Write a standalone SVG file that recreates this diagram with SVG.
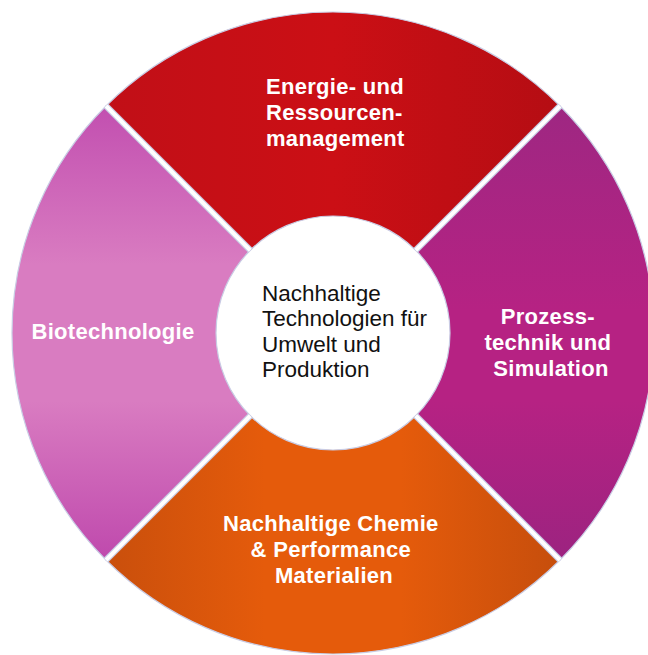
<svg xmlns="http://www.w3.org/2000/svg" width="648" height="655" viewBox="0 0 648 655">
  <defs>
    <linearGradient id="gTop" gradientUnits="userSpaceOnUse" x1="106" y1="0" x2="560" y2="0">
      <stop offset="0" stop-color="#c10f17"/>
      <stop offset="0.5" stop-color="#cb0f15"/>
      <stop offset="1" stop-color="#b50d13"/>
    </linearGradient>
    <linearGradient id="gRight" gradientUnits="userSpaceOnUse" x1="0" y1="106" x2="0" y2="560">
      <stop offset="0" stop-color="#9e2782"/>
      <stop offset="0.45" stop-color="#b62283"/>
      <stop offset="0.65" stop-color="#b62283"/>
      <stop offset="1" stop-color="#9c2380"/>
    </linearGradient>
    <linearGradient id="gBottom" gradientUnits="userSpaceOnUse" x1="106" y1="0" x2="560" y2="0">
      <stop offset="0" stop-color="#c94f0c"/>
      <stop offset="0.35" stop-color="#e55b0b"/>
      <stop offset="0.65" stop-color="#e55b0b"/>
      <stop offset="1" stop-color="#c64e0c"/>
    </linearGradient>
    <linearGradient id="gLeft" gradientUnits="userSpaceOnUse" x1="0" y1="106" x2="0" y2="560">
      <stop offset="0" stop-color="#c24fb0"/>
      <stop offset="0.35" stop-color="#d97cc1"/>
      <stop offset="0.65" stop-color="#d97cc1"/>
      <stop offset="1" stop-color="#bf49ad"/>
    </linearGradient>
  </defs>
  <style>
    .seg { stroke: #c9cce4; stroke-width: 1.2; }
    .gap-edge { stroke: #c6cae3; stroke-width: 6.5; }
    .gap { stroke: #ffffff; stroke-width: 4; }
    .lbl { font-family: "Liberation Sans", Arial, sans-serif; font-weight: bold; font-size: 22px; fill: #ffffff; letter-spacing: 0.3px; }
    .hub { font-family: "Liberation Sans", Arial, sans-serif; font-size: 22.5px; fill: #111111; }
  </style>

  <!-- ring segments -->
  <g id="energie">
    <path class="seg" fill="url(#gTop)" d="M106.02 106.02 A321 321 0 0 1 559.98 106.02 L415.73 250.27 A117 117 0 0 0 250.27 250.27 Z"/>
    <text class="lbl">
      <tspan x="266" y="94">Energie- und</tspan>
      <tspan x="266" y="120">Ressourcen-</tspan>
      <tspan x="266" y="146">management</tspan>
    </text>
  </g>
  <g id="prozess">
    <path class="seg" fill="url(#gRight)" d="M559.98 106.02 A321 321 0 0 1 559.98 559.98 L415.73 415.73 A117 117 0 0 0 415.73 250.27 Z"/>
    <text class="lbl" text-anchor="middle">
      <tspan x="551" y="324">Prozess-</tspan>
      <tspan x="551" y="350">technik und</tspan>
      <tspan x="551" y="376">Simulation</tspan>
    </text>
  </g>
  <g id="chemie">
    <path class="seg" fill="url(#gBottom)" d="M559.98 559.98 A321 321 0 0 1 106.02 559.98 L250.27 415.73 A117 117 0 0 0 415.73 415.73 Z"/>
    <text class="lbl" text-anchor="middle">
      <tspan x="334" y="531">Nachhaltige Chemie</tspan>
      <tspan x="334" y="557">&amp; Performance</tspan>
      <tspan x="334" y="583">Materialien</tspan>
    </text>
  </g>
  <g id="biotechnologie">
    <path class="seg" fill="url(#gLeft)" d="M106.02 559.98 A321 321 0 0 1 106.02 106.02 L250.27 250.27 A117 117 0 0 0 250.27 415.73 Z"/>
    <text class="lbl" x="113" y="339" text-anchor="middle">Biotechnologie</text>
  </g>

  <!-- dividing gaps between the segments -->
  <g id="connectors">
    <line class="gap-edge" x1="250.27" y1="250.27" x2="106.02" y2="106.02"/>
    <line class="gap-edge" x1="415.73" y1="250.27" x2="559.98" y2="106.02"/>
    <line class="gap-edge" x1="415.73" y1="415.73" x2="559.98" y2="559.98"/>
    <line class="gap-edge" x1="250.27" y1="415.73" x2="106.02" y2="559.98"/>
    <line class="gap" x1="250.27" y1="250.27" x2="106.02" y2="106.02"/>
    <line class="gap" x1="415.73" y1="250.27" x2="559.98" y2="106.02"/>
    <line class="gap" x1="415.73" y1="415.73" x2="559.98" y2="559.98"/>
    <line class="gap" x1="250.27" y1="415.73" x2="106.02" y2="559.98"/>
  </g>

  <!-- central hub -->
  <g id="hub">
    <circle cx="333" cy="333" r="115.5" fill="#ffffff"/>
    <text class="hub">
      <tspan x="262" y="301">Nachhaltige</tspan>
      <tspan x="262" y="326">Technologien für</tspan>
      <tspan x="262" y="352">Umwelt und</tspan>
      <tspan x="262" y="377">Produktion</tspan>
    </text>
  </g>
</svg>
